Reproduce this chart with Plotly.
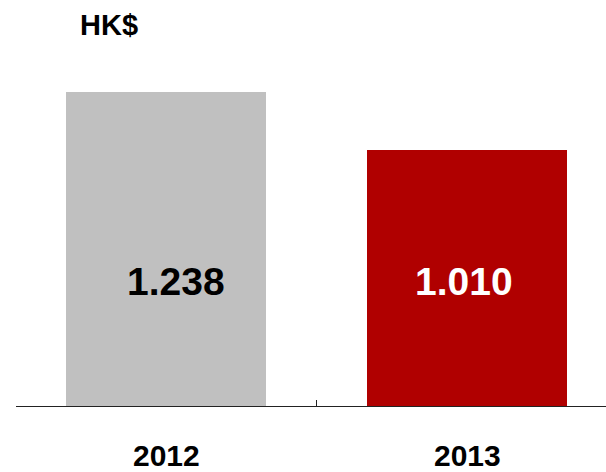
import plotly.graph_objects as go

years = ["2012", "2013"]
values = [1.238, 1.010]
bar_colors = ["#C0C0C0", "#B00000"]
label_colors = ["#000000", "#FFFFFF"]
value_labels = ["1.238", "1.010"]
unit_label = "HK$"

FONT = "Liberation Sans, Arial, sans-serif"

fig = go.Figure()
fig.add_trace(go.Bar(
    x=years,
    y=values,
    marker=dict(color=bar_colors, line=dict(width=0)),
    width=0.665,
    hoverinfo="skip",
))

# value labels inside the bars (category index positions)
for i, (txt, col, dx) in enumerate(zip(value_labels, label_colors, [10, -3])):
    fig.add_annotation(
        x=i, y=0.489, xref="x", yref="y",
        text=txt, showarrow=False, xshift=dx,
        font=dict(family=FONT, size=39, color=col, weight="bold"),
        xanchor="center", yanchor="middle",
    )

# category labels under the axis
for i, yr in enumerate(years):
    fig.add_annotation(
        x=i, y=0, xref="x", yref="paper",
        text=yr, showarrow=False, yshift=-49,
        font=dict(family=FONT, size=30, color="#000000", weight="bold"),
        xanchor="center", yanchor="middle",
    )

# unit label
fig.add_annotation(
    x=(78 - 16) / 590, y=1 + (40 - 25) / 366, xref="paper", yref="paper",
    text=unit_label, showarrow=False,
    font=dict(family=FONT, size=29, color="#000000", weight="bold"),
    xanchor="left", yanchor="middle",
)

fig.update_layout(
    width=606, height=472,
    margin=dict(l=16, r=0, t=40, b=66),
    paper_bgcolor="white", plot_bgcolor="white",
    showlegend=False,
    bargap=0,
    xaxis=dict(
        type="category",
        range=[-0.5, 1.462],
        showline=True, linecolor="#222222", linewidth=1,
        ticks="inside", ticklen=6, tickcolor="#222222", tickwidth=1,
        tickson="boundaries",
        showticklabels=False,
        showgrid=False, zeroline=False,
        fixedrange=True,
    ),
    yaxis=dict(
        range=[0, 1.443],
        visible=False,
        showgrid=False, zeroline=False,
        fixedrange=True,
    ),
)

fig.write_html("out.html")
